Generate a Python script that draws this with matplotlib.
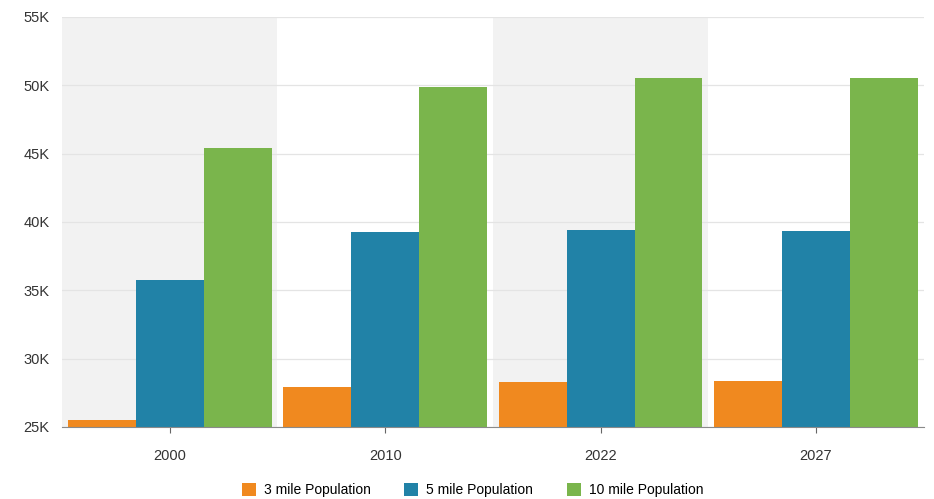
import numpy as np
import matplotlib.pyplot as plt
from matplotlib.ticker import FuncFormatter

plt.rcParams['font.family'] = ['Liberation Sans', 'DejaVu Sans']

# Population by year within 3/5/10 miles
years = ['2000', '2010', '2022', '2027']
pop_3mile = [25500, 27900, 28300, 28350]
pop_5mile = [35750, 39300, 39400, 39350]
pop_10mile = [45400, 49850, 50500, 50550]

series = [('3 mile Population', pop_3mile, '#f0891f'),
          ('5 mile Population', pop_5mile, '#2182a7'),
          ('10 mile Population', pop_10mile, '#7ab54c')]

fig = plt.figure(figsize=(9.34, 4.99), dpi=100)
ax = fig.add_axes([0.0664, 0.1443, 0.9226, 0.8217])

x = np.arange(len(years))
w = 0.315
for i, (name, vals, col) in enumerate(series):
    ax.bar(x + (i - 1) * w, np.array(vals) - 25000, bottom=25000, width=w,
           color=col, label=name, zorder=3)

# alternating background bands
for i in range(len(years)):
    if i % 2 == 0:
        ax.axvspan(i - 0.5, i + 0.5, color='#f2f2f2', zorder=0, lw=0)

ax.set_xlim(-0.5, len(years) - 0.5)
ax.set_ylim(25000, 55000)
ax.set_yticks(range(25000, 55001, 5000))
ax.yaxis.set_major_formatter(FuncFormatter(lambda v, p: f'{int(v / 1000)}K'))
ax.set_xticks(x)
ax.set_xticklabels(years)
ax.grid(axis='y', color='#e4e4e4', lw=0.9, zorder=1)

for s in ['top', 'right', 'left']:
    ax.spines[s].set_visible(False)
ax.spines['bottom'].set_color('#8a8a8a')
ax.spines['bottom'].set_zorder(4)
ax.tick_params(axis='y', length=0, pad=9, labelsize=10.5, labelcolor='#333333')
ax.tick_params(axis='x', length=4, color='#666666', pad=12, labelsize=10.5,
               labelcolor='#333333')

fig.legend(loc='lower center', bbox_to_anchor=(0.506, -0.022), ncol=3, frameon=False,
           fontsize=10, handlelength=1.0, handleheight=1.1, columnspacing=2.4,
           handletextpad=0.6)

fig.savefig('out.png', dpi=100, facecolor='white')
